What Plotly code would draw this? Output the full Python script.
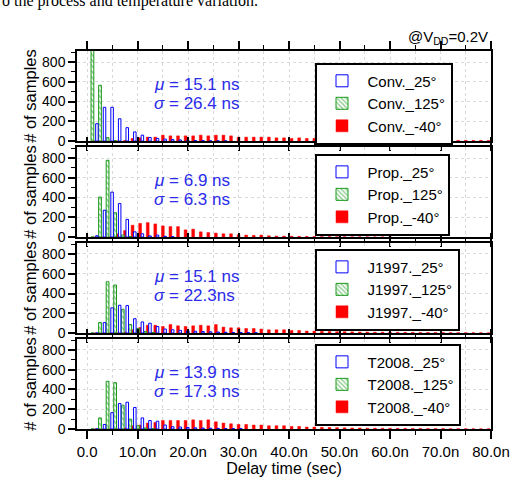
import plotly.graph_objects as go

# ---------------- data ----------------
delay_bins_ns = [1.5, 3.0, 4.5, 6.0, 7.5, 9.0, 10.5, 12.0, 13.5, 15.0, 16.5, 18.0, 19.5, 21.0,
                 22.5, 24.0, 25.5, 27.0, 28.5, 30.0, 31.5, 33.0, 34.5, 36.0, 37.5, 39.0, 40.5,
                 42.0, 43.5, 45.0, 46.5, 48.0, 49.5, 51.0, 52.5, 54.0, 55.5, 57.0, 58.5, 60.0,
                 61.5, 63.0, 64.5, 66.0, 67.5, 69.0, 70.5, 72.0, 73.5, 75.0, 76.5, 78.0, 79.5]

x_tick_vals = [0, 10, 20, 30, 40, 50, 60, 70, 80]
x_tick_text = ["0.0", "10.0n", "20.0n", "30.0n", "40.0n", "50.0n", "60.0n", "70.0n", "80.0n"]
y_tick_vals = [0, 200, 400, 600, 800]

panel_names = ["Conv.", "Prop.", "J1997.", "T2008."]
mu_values = ["15.1 ns", "6.9 ns", "15.1 ns", "13.9 ns"]
sigma_values = ["26.4 ns", "6.3 ns", "22.3ns", "17.3 ns"]
temp_labels = ["_25°", "_125°", "_-40°"]

# counts per bin (# of samples)
conv_25 = [176, 342, 342, 226, 136, 93, 60, 36, 27, 20, 15, 12, 8, 6, 5, 3, 2, 2]
conv_125 = [1050, 565, 35, 5]
conv_m40 = [0, 0, 0, 0, 5, 27, 33, 40, 40, 60, 53, 53, 53, 53, 60, 53, 60, 60, 53, 40,
            40, 40, 40, 40, 33, 33, 27, 33, 27, 27, 23, 20, 20, 20, 17, 15, 13, 13, 13, 12,
            13, 12, 10, 10, 10, 10, 8, 8, 7, 7, 6, 7, 5]

prop_25 = [13, 272, 455, 339, 179, 53, 33, 12, 20, 8, 5]
prop_125 = [0, 405, 777, 246, 20, 5]
prop_m40 = [0, 0, 0, 33, 66, 120, 139, 146, 133, 113, 106, 106, 73, 80, 53, 46, 40, 33, 33, 23,
            20, 17, 20, 13, 10, 10, 8, 7, 6, 5, 4, 4, 3, 3, 2, 2, 2, 1, 1, 1]

j1997_25 = [0, 106, 255, 281, 278, 145, 112, 99, 66, 40, 33, 27, 22, 18, 15, 12, 10, 8, 6, 5,
            4, 3]
j1997_125 = [0, 106, 519, 486, 240, 86, 46, 15, 5]
j1997_m40 = [0, 0, 0, 0, 10, 33, 56, 79, 79, 66, 86, 73, 66, 73, 79, 73, 86, 60, 53, 53,
             46, 46, 40, 33, 33, 33, 26, 26, 20, 20, 17, 15, 13, 13, 12, 10, 10, 8, 8, 7,
             7, 6, 6, 5, 5, 5, 4, 4, 4, 3, 3, 3, 2]

t2008_25 = [0, 46, 165, 258, 271, 218, 112, 86, 79, 40, 23, 20, 15, 12, 10, 8, 6, 5, 4, 3]
t2008_125 = [0, 112, 483, 469, 240, 99, 33, 10, 3]
t2008_m40 = [0, 0, 0, 0, 10, 33, 40, 60, 66, 86, 86, 86, 86, 93, 86, 93, 73, 60, 53, 46,
             46, 40, 40, 33, 33, 33, 26, 26, 20, 20, 17, 15, 13, 12, 10, 10, 8, 8, 7, 7,
             6, 6, 5, 5, 4, 4, 4, 3, 3, 3, 2, 2, 2]

series_25 = [conv_25, prop_25, j1997_25, t2008_25]
series_125 = [conv_125, prop_125, j1997_125, t2008_125]
series_m40 = [conv_m40, prop_m40, j1997_m40, t2008_m40]

# ---------------- layout geometry ----------------
W, H = 522, 487
ML, MR, MT, MB = 77, 27, 51, 50
PW, PH = W - ML - MR, H - MT - MB
panel_tops = [51, 149, 247, 345]
panel_h = 92
legend_tops = [63, 156, 253, 350]


def py(p):
    return (H - MB - p) / PH


def px(p):
    return (p - ML) / PW


FONT = "Arial, 'Liberation Sans', sans-serif"
BLUE = "#0000ff"
GREEN = "#1a9a1a"
RED = "#ff0000"
TXT_BLUE = "#2b2bea"

fig = go.Figure()

for i in range(4):
    n = i + 1
    xa = "x" if n == 1 else f"x{n}"
    ya = "y" if n == 1 else f"y{n}"
    lg = "legend" if n == 1 else f"legend{n}"
    name = panel_names[i]
    fig.add_trace(go.Bar(
        x=delay_bins_ns[:len(series_m40[i])], y=series_m40[i],
        name=name + temp_labels[2], xaxis=xa, yaxis=ya, legend=lg, legendrank=3,
        offset=-0.27, width=0.55,
        marker=dict(color=RED, line=dict(color=RED, width=0.5)),
    ))
    fig.add_trace(go.Bar(
        x=delay_bins_ns[:len(series_125[i])], y=series_125[i],
        name=name + temp_labels[1], xaxis=xa, yaxis=ya, legend=lg, legendrank=2,
        offset=-0.72, width=0.55,
        marker=dict(color="white", line=dict(color=GREEN, width=1),
                    pattern=dict(shape="\\", fgcolor=GREEN, bgcolor="white",
                                 size=4, solidity=0.45)),
    ))
    fig.add_trace(go.Bar(
        x=delay_bins_ns[:len(series_25[i])], y=series_25[i],
        name=name + temp_labels[0], xaxis=xa, yaxis=ya, legend=lg, legendrank=1,
        offset=0.2, width=0.5,
        marker=dict(color="white", line=dict(color=BLUE, width=1)),
    ))

layout = dict(
    width=W, height=H,
    margin=dict(l=ML, r=MR, t=MT, b=MB),
    paper_bgcolor="white", plot_bgcolor="white",
    barmode="overlay",
    font=dict(family=FONT, color="black", size=14),
    showlegend=True,
)

annotations = []
for i in range(4):
    n = i + 1
    top = panel_tops[i]
    dom = [py(top + panel_h), py(top)]
    xkey = "xaxis" if n == 1 else f"xaxis{n}"
    ykey = "yaxis" if n == 1 else f"yaxis{n}"
    ykey_r = f"yaxis{n + 4}"
    yref = "y" if n == 1 else f"y{n}"
    xref = "x" if n == 1 else f"x{n}"
    layout[xkey] = dict(
        domain=[0, 1], anchor=yref, range=[-2, 80],
        tickvals=x_tick_vals, ticktext=x_tick_text,
        showticklabels=(n == 4),
        ticks="outside", ticklen=8, tickwidth=1.5, tickcolor="black",
        minor=dict(dtick=5, ticks="outside", ticklen=4, tickwidth=1, tickcolor="black",
                   showgrid=True, gridcolor="#d9d9d9", griddash="dot", gridwidth=1),
        showline=True, linecolor="black", linewidth=1.5, mirror="ticks",
        showgrid=True, gridcolor="#d9d9d9", griddash="dot", gridwidth=1,
        zeroline=False,
        tickfont=dict(size=15, family=FONT),
    )
    if n == 4:
        layout[xkey]["title"] = dict(text="Delay time (sec)",
                                     font=dict(size=16, family=FONT), standoff=4)
    if n != 1:
        layout[xkey]["matches"] = "x"
    layout[ykey] = dict(
        domain=dom, anchor=xref, range=[0, 912],
        tickvals=y_tick_vals,
        ticks="outside", ticklen=7, tickwidth=1.5, tickcolor="black",
        minor=dict(dtick=100, ticks="outside", ticklen=4, tickwidth=1, tickcolor="black"),
        showline=True, linecolor="black", linewidth=1.5, mirror=True,
        showgrid=True, gridcolor="#d9d9d9", griddash="dot", gridwidth=1,
        zeroline=False,
        tickfont=dict(size=14, family=FONT),
        title=dict(text="# of samples", font=dict(size=16.5, family=FONT), standoff=1),
    )
    layout[ykey_r] = dict(
        overlaying=yref, anchor=xref, side="right", range=[0, 912],
        tickvals=y_tick_vals, showticklabels=False,
        ticks="inside", ticklen=5, tickwidth=1.5, tickcolor="black",
        minor=dict(dtick=100, ticks="inside", ticklen=3, tickwidth=1, tickcolor="black"),
        showgrid=False, zeroline=False, showline=False,
    )
    lkey = "legend" if n == 1 else f"legend{n}"
    layout[lkey] = dict(
        x=px(317), y=py(legend_tops[i]), xanchor="left", yanchor="top",
        xref="paper", yref="paper",
        bgcolor="white", bordercolor="black", borderwidth=1.8,
        font=dict(size=15, family=FONT), itemwidth=41,
        tracegroupgap=0, traceorder="normal",
    )
    annotations.append(dict(
        text="<i>μ</i> = " + mu_values[i], x=px(153), y=py(top + 34),
        xref="paper", yref="paper", xanchor="left", yanchor="middle",
        showarrow=False, font=dict(size=17, color=TXT_BLUE, family=FONT),
    ))
    annotations.append(dict(
        text="<i>σ</i> = " + sigma_values[i], x=px(153), y=py(top + 54),
        xref="paper", yref="paper", xanchor="left", yanchor="middle",
        showarrow=False, font=dict(size=17, color=TXT_BLUE, family=FONT),
    ))

annotations.append(dict(
    text="@V<sub>DD</sub>=0.2V", x=px(494), y=py(37), xref="paper", yref="paper",
    xanchor="right", yanchor="middle", showarrow=False,
    font=dict(size=15, family=FONT, color="black"),
))
annotations.append(dict(
    text="o the process and temperature variation.", x=px(-1), y=py(0),
    xref="paper", yref="paper", xanchor="left", yanchor="middle", showarrow=False,
    font=dict(size=16, family="'Liberation Serif', 'Times New Roman', serif", color="black"),
))
layout["annotations"] = annotations

fig.update_layout(**layout)
fig.write_html("out.html")
